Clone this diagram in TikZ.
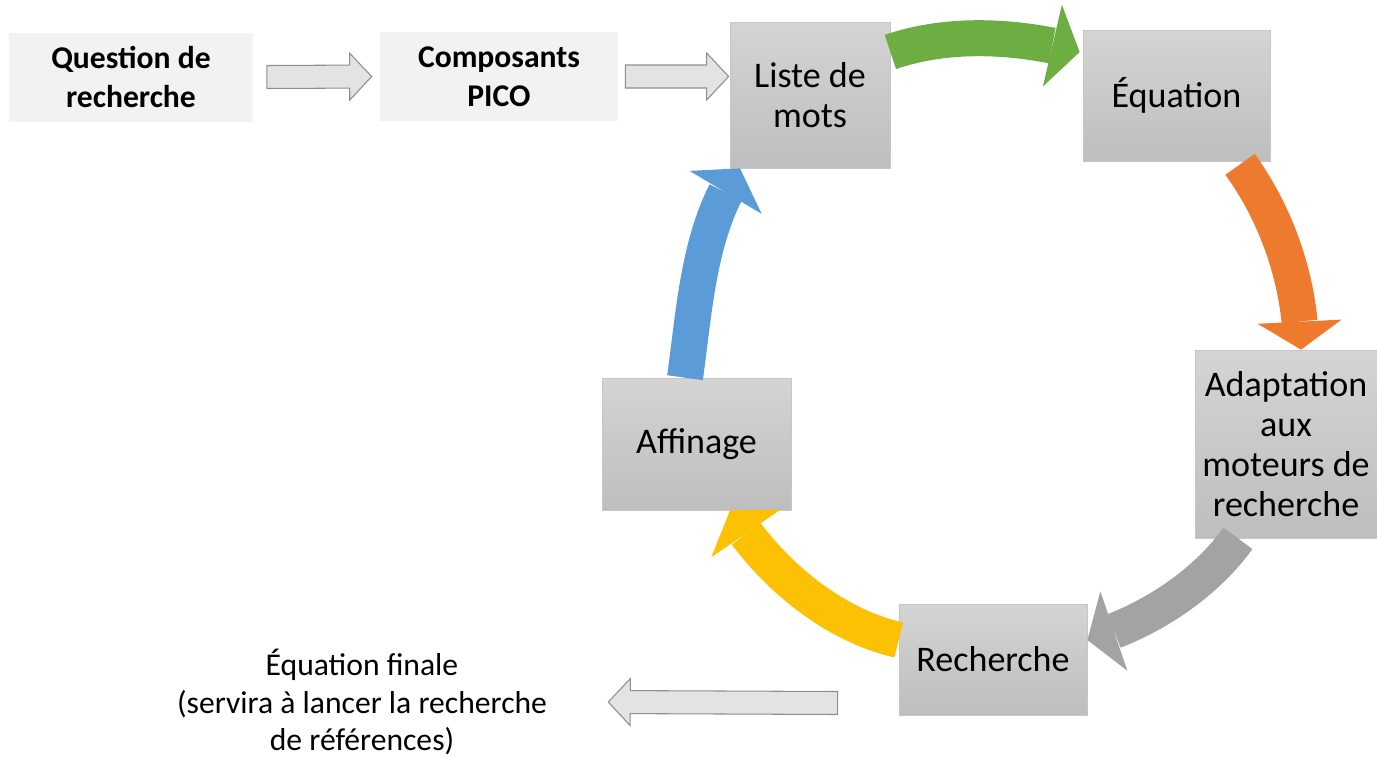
\documentclass[tikz,border=0pt]{standalone}
\usepackage{fontspec}
\setmainfont{Carlito}
\usepackage{tikz}
\usetikzlibrary{arrows.meta,bending,calc}

\definecolor{boxtop}{HTML}{D4D4D4}
\definecolor{boxbottom}{HTML}{BEBEBE}
\definecolor{boxline}{HTML}{C6C6C6}
\definecolor{lightbox}{HTML}{F2F2F2}
\definecolor{flatfill}{HTML}{E3E3E3}
\definecolor{flatline}{HTML}{8E8E8E}
\definecolor{cyclegreen}{HTML}{6DAE43}
\definecolor{cycleorange}{HTML}{EE7A2E}
\definecolor{cyclegray}{HTML}{A3A3A3}
\definecolor{cycleyellow}{HTML}{FBC102}
\definecolor{cycleblue}{HTML}{5A9BD8}

% flat outlined arrow from #1 to #2
\newcommand{\flatarrow}[2]{%
  \path ($(#2)!0.44cm!(#1)$) coordinate (headbase);
  \draw[flatarrow] ($(#1)!0.23cm!90:(#2)$) -- ($(headbase)!0.23cm!90:(#2)$)
    -- ($(headbase)!0.47cm!90:(#2)$) -- (#2)
    -- ($(headbase)!0.47cm!-90:(#2)$) -- ($(headbase)!0.23cm!-90:(#2)$)
    -- ($(#1)!0.23cm!-90:(#2)$) -- cycle;}

\begin{document}
\begin{tikzpicture}[
    stepbox/.style={draw=boxline, top color=boxtop, bottom color=boxbottom,
      inner sep=0pt, align=center, font=\fontsize{20.5}{22.8}\selectfont},
    startbox/.style={fill=lightbox, inner sep=0pt, align=center,
      font=\fontsize{18}{22}\selectfont\bfseries},
    cyclearrow/.style={line width=0.72cm, looseness=0.85,
      -{Triangle[length=0.56cm,width=1.68cm,line width=0pt]}},
    flatarrow/.style={draw=flatline, fill=flatfill, line width=0.6pt}
  ]

    \useasboundingbox (0,0) rectangle (27.54,-15.12);

    % Start of the search
    \node[startbox, minimum width=4.86cm, minimum height=1.78cm] (question) at (2.62,-1.54) {Question de\\recherche};
    \node[startbox, minimum width=4.76cm, minimum height=1.78cm] (pico) at (9.98,-1.53) {Composants\\PICO};

    % Cycle
    \node[stepbox, minimum width=3.2cm, minimum height=2.92cm] (liste) at (16.2,-1.9) {Liste de\\mots};
    \node[stepbox, minimum width=3.74cm, minimum height=2.62cm] (equation) at (23.53,-1.91) {Équation};
    \node[stepbox, minimum width=3.64cm, minimum height=3.76cm] (adaptation) at (25.72,-8.88) {Adaptation\\aux\\moteurs de\\recherche};
    \node[stepbox, minimum width=3.76cm, minimum height=2.22cm] (recherche) at (19.86,-13.19) {Recherche};
    \node[stepbox, minimum width=3.78cm, minimum height=2.64cm] (affinage) at (13.93,-8.88) {Affinage};

    % Result
    \node[inner sep=0pt, align=center, font=\fontsize{18}{21.3}\selectfont] (finale) at (7.24,-14.04) {Équation finale\\(servira à lancer la recherche\\de références)};

    \flatarrow{[xshift=0.28cm]question.east}{[xshift=-0.16cm]pico.west}
    \flatarrow{[xshift=0.14cm]pico.east}{[xshift=-0.02cm,yshift=0.37cm]liste.west}
    \flatarrow{[xshift=-1.22cm,yshift=-0.87cm]recherche.west}{[xshift=1.22cm]finale.east}

    \draw[cyclearrow, cyclegreen] ([yshift=0.86cm]liste.east) to[out=19, in=165] ([xshift=-0.06cm,yshift=0.87cm]equation.west);
    \draw[cyclearrow, cycleorange] ([xshift=1.27cm,yshift=-0.06cm]equation.south) to[out=-54, in=90] ([xshift=0.3cm]adaptation.north);
    \draw[cyclearrow, cyclegray] ([xshift=-0.96cm]adaptation.south) to[out=-126, in=16] ([yshift=0.39cm]recherche.east);
    \draw[cyclearrow, cycleyellow] ([yshift=0.39cm]recherche.west) to[out=167, in=-58] ([xshift=0.67cm]affinage.south);
    \draw[cyclearrow, cycleblue] ([xshift=-0.23cm]affinage.north) to[out=82, in=235] ([xshift=-1.4cm]liste.south);

\end{tikzpicture}
\end{document}
